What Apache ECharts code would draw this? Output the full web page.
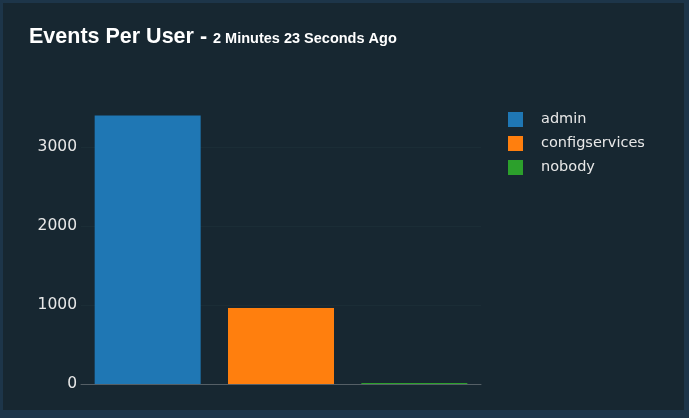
<!DOCTYPE html>
<html>
<head>
<meta charset="utf-8">
<script src="https://cdn.jsdelivr.net/npm/echarts@6/dist/echarts.min.js"></script>
<style>
  html, body { margin: 0; padding: 0; background: #1d3549; }
  #chart { position: absolute; left: 3px; top: 3px; width: 681px; height: 407px; background: #172731; }
</style>
</head>
<body>
<div id="chart"></div>
<script>
var users = ['admin', 'configservices', 'nobody'];
var events = [3405, 962, 14];
var colors = ['#1f77b4', '#ff7f0e', '#2ca02c'];

var chart = echarts.init(document.getElementById('chart'));

// one series per user so each gets a legend entry
var series = users.map(function (u, i) {
    var d = users.map(function () { return '-'; });
    d[i] = events[i];
    return {
        name: u,
        type: 'bar',
        stack: 'all',
        data: d,
        barWidth: 106,
        itemStyle: { color: colors[i] }
    };
});

chart.setOption({
    backgroundColor: '#172731',
    animation: false,
    title: {
        text: '{a|Events Per User - }{b|2 Minutes 23 Seconds Ago}',
        left: 21,
        top: 18,
        textStyle: {
            rich: {
                a: { fontFamily: 'Liberation Sans, Arial', fontWeight: 'bold', fontSize: 21.5, color: '#ffffff' },
                b: { fontFamily: 'Liberation Sans, Arial', fontWeight: 'bold', fontSize: 14.5, color: '#ffffff', padding: [3, 0, 0, 0] }
            }
        }
    },
    legend: {
        orient: 'vertical',
        left: 500,
        top: 104,
        itemWidth: 15,
        itemHeight: 15,
        itemGap: 9,
        icon: 'rect',
        textStyle: { color: '#e8e8e8', fontSize: 14.5, fontFamily: 'DejaVu Sans, Verdana', padding: [0, 0, 0, 13] },
        data: users
    },
    grid: { left: 78, right: 203, top: 97, bottom: 26, containLabel: false },
    xAxis: {
        type: 'category',
        data: users,
        axisLine: { lineStyle: { color: '#555f66', width: 1 } },
        axisTick: { show: false },
        axisLabel: { show: false }
    },
    yAxis: {
        type: 'value',
        min: 0,
        max: 3600,
        interval: 1000,
        axisLine: { show: false },
        axisTick: { show: false },
        axisLabel: {
            color: '#e8e8e8', fontSize: 15.5, fontFamily: 'DejaVu Sans, Verdana', margin: 4,
            showMaxLabel: false,
            formatter: function (v) { return String(v); }
        },
        splitLine: { showMaxLine: false, lineStyle: { color: '#1b2d36', width: 1 } }
    },
    series: series
});
</script>
</body>
</html>
